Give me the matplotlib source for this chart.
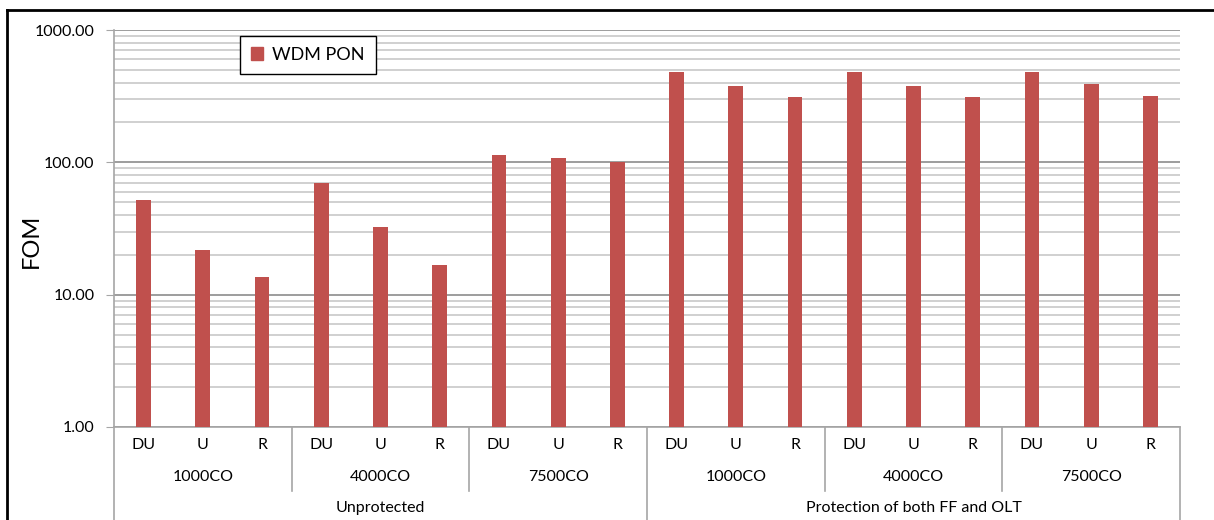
import numpy as np
import matplotlib.pyplot as plt
from matplotlib.lines import Line2D
from matplotlib.patches import Patch

plt.rcParams['font.family'] = ['Lato', 'DejaVu Sans']

# FOM for each scenario (WDM PON)
scenarios = ['Unprotected', 'Protection of both FF and OLT']
co_sizes = ['1000CO', '4000CO', '7500CO']
areas = ['DU', 'U', 'R']
fom_unprotected = [52, 21.8, 13.6, 70, 32.5, 16.8, 114, 108, 101]
fom_protected = [482, 378, 312, 482, 378, 312, 482, 391, 318]
fom = fom_unprotected + fom_protected

bar_color = '#C0504D'
line_gray = '#A6A6A6'

fig = plt.figure(figsize=(12.14, 5.2), dpi=100)
ax = fig.add_axes([114 / 1214, 93 / 520, 1066 / 1214, 397 / 520])

x = np.arange(len(fom))
ax.bar(x, fom, width=0.25, color=bar_color, zorder=3, label='WDM PON')

ax.set_yscale('log')
ax.set_ylim(1, 1000)
ax.set_xlim(-0.5, len(fom) - 0.5)
ax.set_yticks([1, 10, 100, 1000])
ax.set_yticklabels(['%.2f' % v for v in [1, 10, 100, 1000]], fontsize=11.5)
ax.yaxis.set_minor_formatter(plt.NullFormatter())
ax.tick_params(axis='y', which='major', length=6, color=line_gray, pad=8)
ax.tick_params(axis='y', which='minor', length=0)
ax.set_xticks([])
ax.grid(True, which='major', axis='y', color='#8C8C8C', lw=1.2, zorder=0)
ax.grid(True, which='minor', axis='y', color='#C8C8C8', lw=1.2, zorder=0)
ax.set_ylabel('FOM', fontsize=17)
ax.yaxis.set_label_coords(-0.068, 0.47)

for side in ['top', 'right']:
    ax.spines[side].set_visible(False)
for side in ['left', 'bottom']:
    ax.spines[side].set_color(line_gray)
    ax.spines[side].set_linewidth(1.2)

# multi-level category axis
tr = ax.get_xaxis_transform()
for i in x:
    ax.text(i, -0.045, areas[i % 3], transform=tr, ha='center', va='center', fontsize=11.5)
for g in range(6):
    ax.text(g * 3 + 1, -0.126, co_sizes[g % 3], transform=tr, ha='center', va='center', fontsize=11.5)
for s, name in enumerate(scenarios):
    ax.text(s * 9 + 4, -0.205, name, transform=tr, ha='center', va='center', fontsize=11.5)

for xs in [2.5, 5.5, 11.5, 14.5]:
    ax.add_line(Line2D([xs, xs], [0, -0.16], transform=tr, color=line_gray, lw=1.2, clip_on=False))
for xs in [-0.5, 8.5, 17.5]:
    ax.add_line(Line2D([xs, xs], [0, -0.3], transform=tr, color=line_gray, lw=1.2, clip_on=False))

ax.legend(handles=[Patch(color=bar_color, label='WDM PON')], loc='upper left',
          bbox_to_anchor=(0.118, 0.985), borderaxespad=0, fontsize=13, fancybox=False,
          framealpha=1, edgecolor='black', handlelength=0.7, handleheight=0.7,
          handletextpad=0.5, borderpad=0.6)

# outer chart frame
fig.add_artist(Line2D([7 / 1214, 7 / 1214], [0, 1 - 10 / 520], color='black', lw=2))
fig.add_artist(Line2D([7 / 1214, 1], [1 - 10 / 520, 1 - 10 / 520], color='black', lw=2))

fig.savefig('out.png', dpi=100)
